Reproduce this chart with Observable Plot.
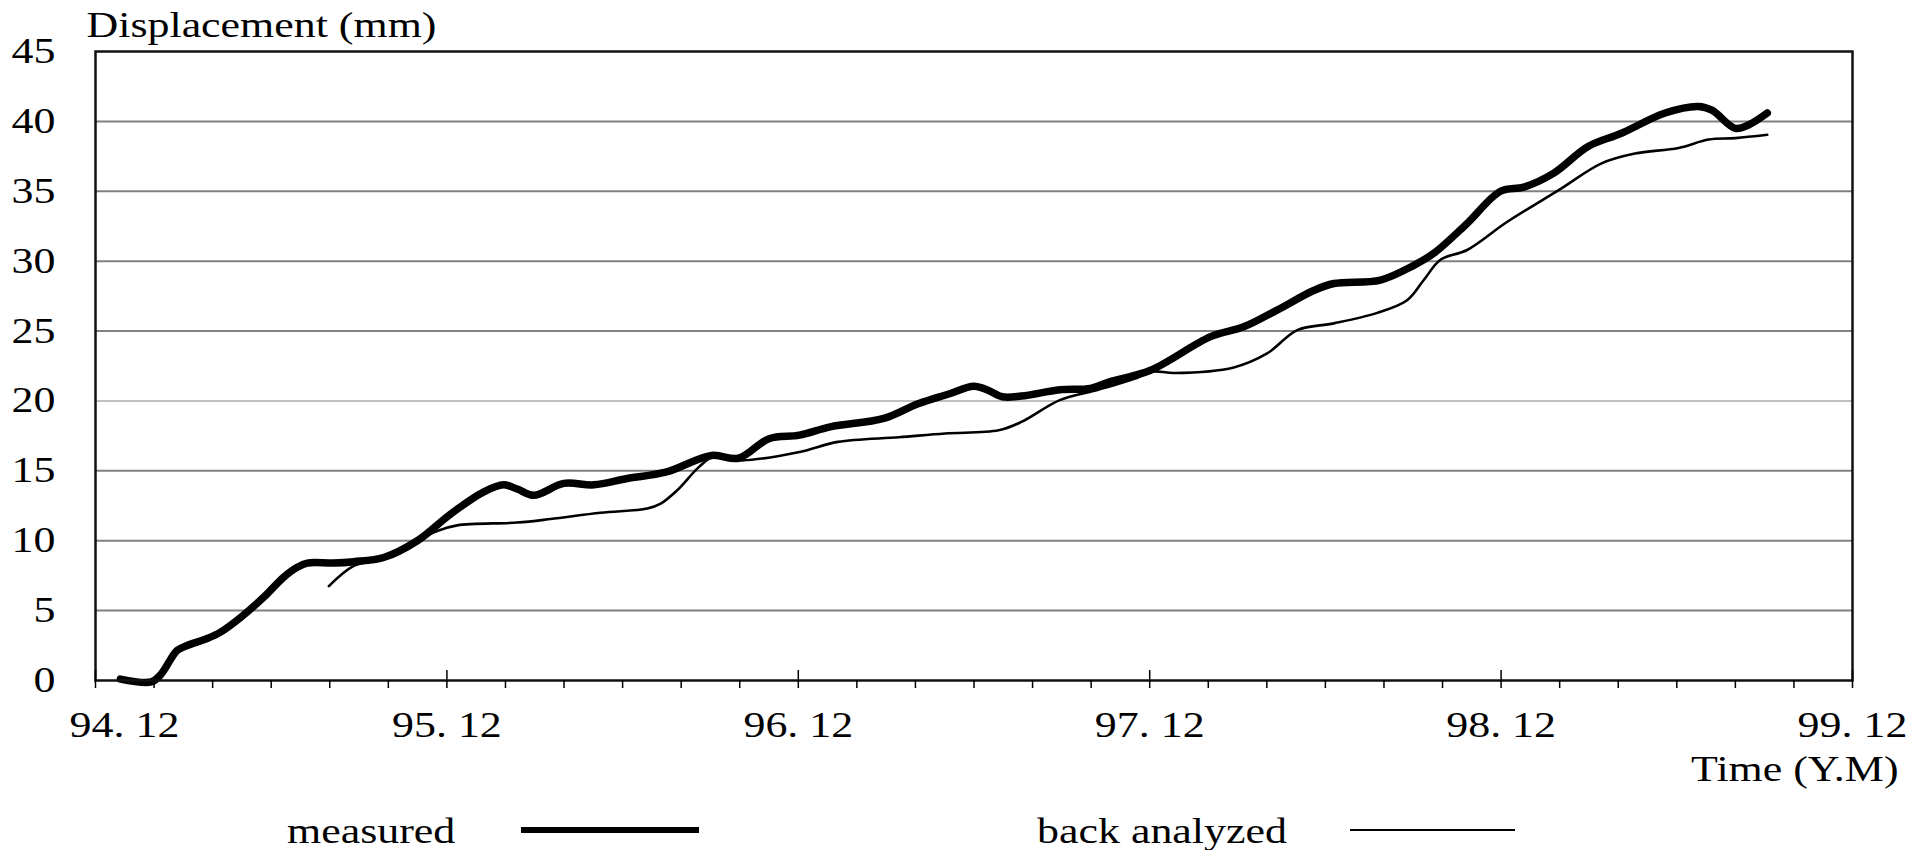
<!DOCTYPE html>
<html>
<head>
<meta charset="utf-8">
<script src="https://cdn.jsdelivr.net/npm/d3@7"></script>
<script src="https://cdn.jsdelivr.net/npm/@observablehq/plot@0.6"></script>
<style>
  body { margin: 0; background: #fff; font-family: "Liberation Serif", serif; }
  #chart svg { display: block; }
  #legend { position: relative; width: 1925px; height: 50px; }
  .lt { position: absolute; font-size: 36px; line-height: 36px; white-space: nowrap; color: #000;
        transform: scaleX(1.22); transform-origin: left center; }
  .ll { position: absolute; background: #000; }
</style>
</head>
<body>
<div id="chart"></div>
<div id="legend"></div>
<script>
// ---- data (x = months since 94.12, y = displacement in mm) ----
const measuredMonths = [0.85, 1.9, 2.22, 2.79, 3.13, 3.81, 4.27, 4.95, 5.75, 6.43, 6.89, 7.23, 8.13, 8.82, 9.84,
  10.99, 12.12, 13.26, 13.94, 14.4, 14.97, 15.99, 17.02, 18.16, 19.47, 21.04, 21.95, 23.0, 24.04, 25.09,
  26.92, 28.09, 29.14, 29.99, 30.44, 30.97, 31.62, 32.93, 33.98, 34.63, 36.03, 38.08, 39.21, 40.35, 41.6,
  42.29, 43.88, 45.02, 45.7, 46.84, 47.98, 48.78, 49.8, 50.97, 52.11, 53.6, 54.74, 55.2, 56.0, 56.46, 57.09];
const measuredValues = [0.1, -0.1, 0.4, 2.15, 2.5, 3.0, 3.46, 4.5, 5.97, 7.4, 8.1, 8.4, 8.4, 8.5, 8.8,
  10.0, 11.9, 13.5, 14.0, 13.7, 13.25, 14.1, 14.0, 14.45, 14.9, 16.1, 15.9, 17.3, 17.55, 18.15,
  18.75, 19.8, 20.5, 21.06, 20.8, 20.3, 20.35, 20.8, 20.9, 21.37, 22.2, 24.6, 25.3, 26.5, 27.9,
  28.4, 28.65, 29.7, 30.56, 32.7, 35.0, 35.3, 36.3, 38.2, 39.15, 40.6, 41.07, 40.8, 39.5, 39.76, 40.6];

const backMonths = [7.97, 8.82, 10.07, 10.99, 11.67, 12.35, 14.4, 15.54, 17.25, 18.84, 19.3, 19.86, 20.62, 21.1,
  22.08, 24.04, 25.35, 27.44, 29.01, 30.84, 31.62, 32.93, 34.24, 35.5, 36.06, 36.85, 38.87, 40.01, 41.04,
  42.29, 43.77, 44.79, 45.36, 45.93, 46.84, 48.2, 49.98, 51.43, 52.57, 54.06, 55.09, 56.0, 57.09];
const backValues = [6.75, 8.2, 8.9, 10.0, 10.7, 11.1, 11.3, 11.55, 12.0, 12.3, 12.65, 13.6, 15.3, 16.0,
  15.75, 16.35, 17.07, 17.4, 17.67, 17.9, 18.5, 20.06, 20.8, 21.6, 22.1, 22.0, 22.4, 23.4, 25.07,
  25.55, 26.3, 27.2, 28.65, 30.1, 30.8, 32.8, 35.1, 37.0, 37.7, 38.1, 38.7, 38.8, 39.04];

const yTicks = [0, 5, 10, 15, 20, 25, 30, 35, 40, 45];
const gridValues = [5, 10, 15, 20, 25, 30, 35, 40];
const majorTicks = [0, 12, 24, 36, 48, 60];
const xTickLabels = ["94. 12", "95. 12", "96. 12", "97. 12", "98. 12", "99. 12"];
const minorTicks = d3.range(2, 60, 2).filter(m => m % 12 !== 0);
const yLabel = "Displacement (mm)";
const xLabel = "Time (Y.M)";
const seriesNames = ["measured", "back analyzed"];

// ---- build ----
const measured = measuredMonths.map((m, i) => ({m, v: measuredValues[i]}));
const back = backMonths.map((m, i) => ({m, v: backValues[i]}));
const fmtX = d => xTickLabels[majorTicks.indexOf(d)];
const STRETCH = 1.22;

const plot = Plot.plot({
  width: 1925,
  height: 800,
  marginLeft: 95,
  marginRight: 73,
  marginTop: 51,
  marginBottom: 120,
  style: {fontFamily: '"Liberation Serif", "Times New Roman", serif', fontSize: "36px", color: "#000", background: "#fff", overflow: "visible"},
  x: {domain: [0, 60]},
  y: {domain: [0, 45]},
  marks: [
    Plot.ruleY(gridValues.filter(d => d !== 20), {stroke: "#808080", strokeWidth: 2}),
    Plot.ruleY(gridValues.filter(d => d === 20), {stroke: "#c0c0c0", strokeWidth: 2}),
    Plot.line(back, {x: "m", y: "v", stroke: "#000", strokeWidth: 2.6, curve: "catmull-rom"}),
    Plot.line(measured, {x: "m", y: "v", stroke: "#000", strokeWidth: 7.5, curve: "catmull-rom", strokeLinecap: "round"}),
    Plot.frame({stroke: "#111", strokeWidth: 2.5}),
    Plot.axisY(yTicks, {tickSize: 0, tickPadding: 40, label: null}),
    Plot.axisX(minorTicks, {tickSize: 8, strokeWidth: 1.5, tickFormat: () => "", label: null}),
    Plot.axisX(majorTicks, {tickSize: 18, dy: -10, strokeWidth: 1.5, tickFormat: () => "", label: null}),
    Plot.axisX(majorTicks.slice(1), {tickSize: 0, tickPadding: 31, tickFormat: fmtX, label: null}),
    Plot.axisX(majorTicks.slice(0, 1), {tickSize: 0, tickPadding: 31, dx: 29, tickFormat: fmtX, label: null}),
    Plot.text([yLabel], {text: d => d, frameAnchor: "top-left", textAnchor: "start", lineAnchor: "bottom", dx: -9, dy: -15}),
    Plot.text([xLabel], {text: d => d, frameAnchor: "bottom-right", textAnchor: "end", lineAnchor: "bottom", dx: 46, dy: 100})
  ]
});

// the reference's lettering is horizontally wide: stretch each label about its anchor
d3.select(plot).selectAll("text").each(function () {
  const t = this.getAttribute("transform") || "";
  const x = parseFloat(this.getAttribute("x")) || 0;
  this.setAttribute("transform", `${t} translate(${x},0) scale(${STRETCH},1) translate(${-x},0)`);
});

document.getElementById("chart").appendChild(plot);

// ---- legend (below the svg) ----
const legend = d3.select("#legend");
const legendLayout = [
  {text: seriesNames[0], textLeft: 287, lineLeft: 521, lineWidth: 178, thick: 6},
  {text: seriesNames[1], textLeft: 1037, lineLeft: 1350, lineWidth: 165, thick: 2.5}
];
legendLayout.forEach(d => {
  legend.append("span").attr("class", "lt").style("left", d.textLeft + "px").style("top", "13px").text(d.text);
  legend.append("div").attr("class", "ll")
    .style("left", d.lineLeft + "px").style("top", (30 - d.thick / 2) + "px")
    .style("width", d.lineWidth + "px").style("height", d.thick + "px");
});
</script>
</body>
</html>
